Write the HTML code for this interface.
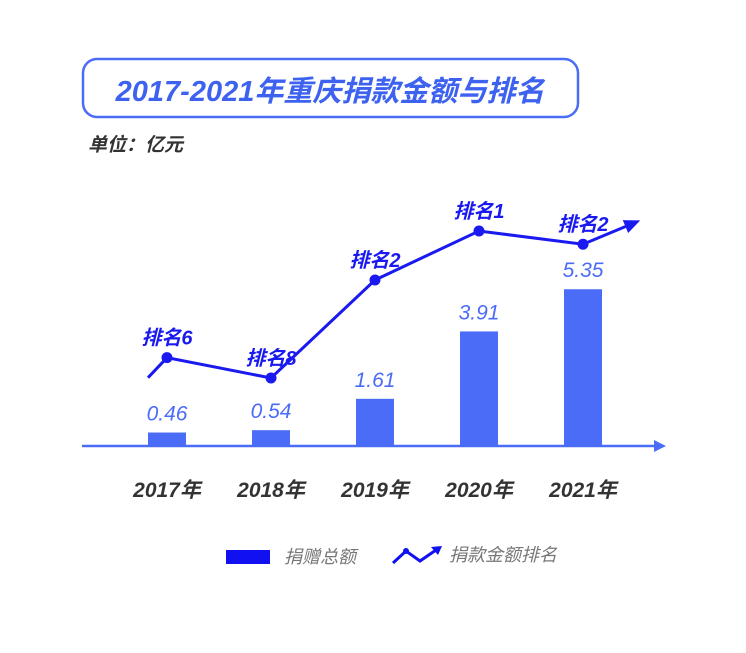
<!DOCTYPE html>
<html><head><meta charset="utf-8"><style>
body{margin:0;background:#fff;}
svg text{font-family:"Liberation Sans","Noto Sans CJK SC",sans-serif;}
</style></head><body>
<svg width="746" height="648" viewBox="0 0 746 648" xmlns="http://www.w3.org/2000/svg">
<rect x="83" y="59" width="495" height="58" rx="14" fill="#fff" stroke="#4a6cf7" stroke-width="2.5"/>
<text x="330" y="101" text-anchor="middle" font-size="29" font-weight="bold" font-style="italic" fill="#3d62f0">2017-2021年重庆捐款金额与排名</text>
<text x="88" y="151" font-size="19" font-weight="bold" font-style="italic" fill="#333">单位：亿元</text>
<g id="bars"></g>
<line x1="82" y1="446" x2="656" y2="446" stroke="#4a6cf7" stroke-width="2.5"/>
<polygon points="666,446 654,440 654,452" fill="#4a6cf7"/>
<g id="line"></g>
<g>
<rect x="226" y="550" width="44" height="14" fill="#1010f0"/>
<text x="284" y="563" font-size="18" font-style="italic" fill="#777">捐赠总额</text>
<polyline points="393,563 406,551 420,561 436,550" fill="none" stroke="#1010f0" stroke-width="3"/>
<circle cx="406" cy="551" r="3" fill="#1010f0"/>
<polygon points="442,546 431,547 438,555" fill="#1010f0"/>
<text x="449" y="561" font-size="18" font-style="italic" fill="#777">捐款金额排名</text>
</g>
</svg>
<script>
const categories=["2017年","2018年","2019年","2020年","2021年"];
const amounts=[0.46,0.54,1.61,3.91,5.35];
const ranks=[6,8,2,1,2];
const NS="http://www.w3.org/2000/svg";
const x0=167,step=104,base=446,k=29.3;
function xs(i){return x0+i*step;}
function yb(v){return base-v*k;}
function yr(r,i){return Math.min(231+49*Math.log2(r), yb(amounts[i])-45);}
const bg=document.getElementById('bars');
categories.forEach((c,i)=>{
 const r=document.createElementNS(NS,'rect');
 r.setAttribute('x',xs(i)-19);r.setAttribute('y',yb(amounts[i]));r.setAttribute('width',38);r.setAttribute('height',base-yb(amounts[i]));r.setAttribute('fill','#4a6cf7');
 
 
 bg.appendChild(r);
 const t=document.createElementNS(NS,'text');
 t.setAttribute('x',xs(i));t.setAttribute('y',yb(amounts[i])-12);t.setAttribute('text-anchor','middle');t.setAttribute('font-size','21');t.setAttribute('font-style','italic');t.setAttribute('fill','#4a6cf7');
 t.textContent=amounts[i].toFixed(2);
 
 
 bg.appendChild(t);
 const y=document.createElementNS(NS,'text');
 y.setAttribute('x',xs(i));y.setAttribute('y',497);y.setAttribute('text-anchor','middle');y.setAttribute('font-size','21');y.setAttribute('font-style','italic');y.setAttribute('font-weight','bold');y.setAttribute('fill','#333');
 y.textContent=c;
 
 
 bg.appendChild(y);
});
const lg=document.getElementById('line');
let pts=[[xs(0)-19,yr(ranks[0],0)+20]];
ranks.forEach((r,i)=>pts.push([xs(i),yr(r,i)]));
const last=pts[pts.length-1];
const end=[last[0]+48,last[1]-20];
pts.push(end);
const pl=document.createElementNS(NS,'polyline');
pl.setAttribute('points',pts.map(p=>p.join(',')).join(' '));
pl.setAttribute('fill','none');pl.setAttribute('stroke','#1a1af0');pl.setAttribute('stroke-width','3');


lg.appendChild(pl);
const ang=Math.atan2(end[1]-last[1],end[0]-last[0]);
const tip=[end[0]+10*Math.cos(ang),end[1]+10*Math.sin(ang)];
const b1=[end[0]-6*Math.cos(ang)+7*Math.sin(ang),end[1]-6*Math.sin(ang)-7*Math.cos(ang)];
const b2=[end[0]-6*Math.cos(ang)-7*Math.sin(ang),end[1]-6*Math.sin(ang)+7*Math.cos(ang)];
const ar=document.createElementNS(NS,'polygon');
ar.setAttribute('points',[tip,b1,b2].map(p=>p.join(',')).join(' '));
ar.setAttribute('fill','#1a1af0');


lg.appendChild(ar);
ranks.forEach((r,i)=>{
 const c=document.createElementNS(NS,'circle');
 c.setAttribute('cx',xs(i));c.setAttribute('cy',yr(r,i));c.setAttribute('r',5.5);c.setAttribute('fill','#1a1af0');
 
 
 lg.appendChild(c);
 const t=document.createElementNS(NS,'text');
 t.setAttribute('x',xs(i));t.setAttribute('y',yr(r,i)-13);t.setAttribute('text-anchor','middle');t.setAttribute('font-size','20');t.setAttribute('font-weight','bold');t.setAttribute('font-style','italic');t.setAttribute('fill','#1a1af0');
 t.textContent='排名'+r;
 
 
 lg.appendChild(t);
});
</script>
</body></html>
